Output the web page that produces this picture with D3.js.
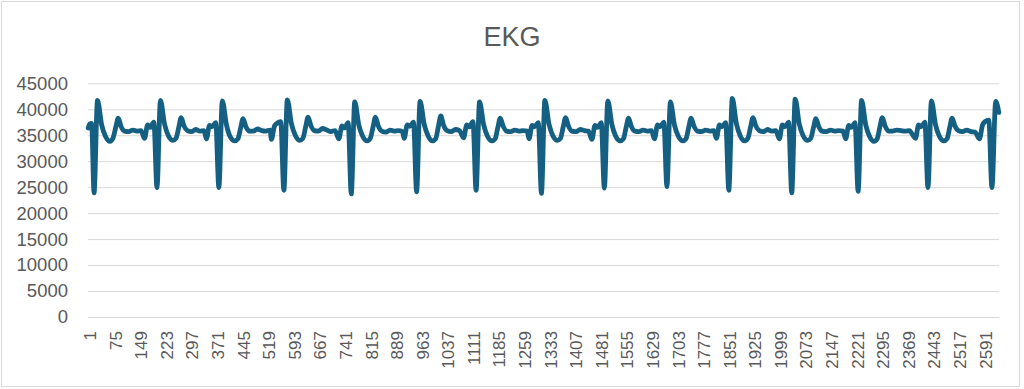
<!DOCTYPE html>
<html>
<head>
<meta charset="utf-8">
<script src="https://cdn.jsdelivr.net/npm/d3@7/dist/d3.min.js"></script>
<style>
  body { margin: 0; background: #fff; }
  svg { display: block; font-family: "Liberation Sans", Arial, sans-serif; }
</style>
</head>
<body>
<svg id="chart" width="1024" height="389"></svg>
<script>
// chart data
const chartTitle = 'EKG';
const sampleCount = 2635;
const yTicks = [0, 5000, 10000, 15000, 20000, 25000, 30000, 35000, 40000, 45000];
const xTickLabels = [1, 75, 149, 223, 297, 371, 445, 519, 593, 667, 741, 815, 889, 963, 1037, 1111,
  1185, 1259, 1333, 1407, 1481, 1555, 1629, 1703, 1777, 1851, 1925, 1999, 2073, 2147, 2221, 2295,
  2369, 2443, 2517, 2591];

// sample number of each read point
const sampleIdx = [
  1, 6, 11, 18, 28, 40, 51, 64, 73, 81, 88, 96, 106, 118, 130, 142, 154,
  164, 173, 180, 191, 200, 210, 222, 233, 246, 255, 263, 270, 278, 288, 300, 312, 324, 336,
  343, 352, 359, 370, 379, 389, 401, 412, 425, 434, 442, 449, 457, 467, 479, 491, 503, 515, 527,
  531, 540, 547, 558, 567, 577, 589, 600, 613, 622, 630, 637, 645, 655, 667, 679, 691, 703, 715,
  726, 735, 742, 753, 762, 772, 784, 795, 808, 817, 825, 832, 840, 850, 862, 874, 886, 898, 910,
  915, 924, 931, 942, 951, 961, 973, 984, 997, 1006, 1014, 1021, 1029, 1039, 1051, 1063, 1075,
  1087, 1096, 1103, 1114, 1123, 1133, 1145, 1156, 1169, 1178, 1186, 1193, 1201, 1211, 1223, 1235, 1247, 1259, 1271,
  1276, 1285, 1292, 1303, 1312, 1322, 1334, 1345, 1358, 1367, 1375, 1382, 1390, 1400, 1412, 1424, 1436, 1448,
  1458, 1467, 1474, 1485, 1494, 1504, 1516, 1527, 1540, 1549, 1557, 1564, 1572, 1582, 1594, 1606, 1618, 1630,
  1639, 1648, 1655, 1666, 1675, 1685, 1697, 1708, 1721, 1730, 1738, 1745, 1753, 1763, 1775, 1787, 1799, 1811,
  1818, 1827, 1834, 1845, 1854, 1864, 1876, 1887, 1900, 1909, 1917, 1924, 1932, 1942, 1954, 1966, 1978, 1990,
  2000, 2009, 2016, 2027, 2036, 2046, 2058, 2069, 2082, 2091, 2099, 2106, 2114, 2124, 2136, 2148, 2160, 2172, 2184,
  2192, 2201, 2208, 2219, 2228, 2238, 2250, 2261, 2274, 2283, 2291, 2298, 2306, 2316, 2328, 2340, 2352, 2364, 2376,
  2394, 2403, 2410, 2421, 2430, 2440, 2452, 2463, 2476, 2485, 2493, 2500, 2508, 2518, 2530, 2542, 2554, 2566,
  2579, 2588, 2595, 2606, 2615, 2626, 2635
];

const ekgValues = [
  36400, 37200, 37300, 23900, 41700, 37000, 34800, 33800, 34500, 36600, 38300, 36700, 35800, 35700, 36000, 35800, 35900,
  34400, 37000, 36500, 37500, 24900, 41700, 37100, 34900, 34000, 34400, 36500, 38400, 36800, 35900, 35700, 36100, 35800, 35900,
  34300, 36900, 36600, 37400, 24900, 41600, 37000, 34700, 33900, 34300, 36400, 38200, 36700, 35800, 35800, 36200, 35900, 35800, 36000,
  34200, 36800, 37300, 37600, 24400, 41800, 37200, 35000, 34000, 34400, 36600, 38500, 36900, 35900, 35800, 36300, 36000, 35700, 35900,
  34300, 36800, 36400, 37400, 23700, 41400, 36900, 34800, 33900, 34400, 36600, 38500, 36800, 35800, 35600, 36000, 35800, 35900, 35700,
  34400, 37000, 36700, 37500, 24100, 41500, 37100, 34900, 33900, 34300, 36700, 38700, 36900, 35900, 35700, 36100, 35900,
  34500, 37000, 36600, 37600, 24400, 41400, 37000, 34800, 33900, 34300, 36500, 38300, 36800, 35800, 35700, 36000, 35800, 35900, 35800,
  34300, 36900, 36600, 37400, 23800, 41700, 37100, 34900, 34000, 34400, 36600, 38400, 36800, 35800, 35700, 36100, 35900, 35800,
  34200, 36900, 36500, 37400, 24800, 41600, 37000, 34800, 33900, 34300, 36500, 38300, 36700, 35800, 35700, 36000, 35800, 35900,
  34300, 37000, 36600, 37500, 25100, 41400, 36900, 34800, 33900, 34300, 36500, 38300, 36800, 35800, 35700, 36000, 35800, 35900,
  34400, 37000, 36600, 37400, 24400, 42100, 37200, 34900, 33900, 34400, 36600, 38400, 36800, 35900, 35700, 36100, 35800, 35900,
  34300, 37000, 36600, 37500, 23900, 41950, 37100, 34900, 34000, 34400, 36500, 38200, 36700, 35800, 35700, 36000, 35800, 35900, 35800,
  34300, 36900, 36500, 37400, 24200, 41700, 37000, 34800, 33800, 34300, 36600, 38400, 36800, 35800, 35800, 36000, 35900, 35800, 35900,
  34400, 37000, 36600, 37500, 24900, 41600, 37000, 34800, 33900, 34300, 36500, 38300, 36800, 35900, 35700, 36000, 35700, 35600,
  34300, 37000, 37600, 37900, 24900, 41500, 39400
];

const width = 1024, height = 389;
const margin = { left: 88, right: 999, top: 83.3, bottom: 317 };
const textColor = '#595959';
const gridColor = '#d9d9d9';
const lineColor = '#156082';

const svg = d3.select('#chart');

// chart area outline
svg.append('rect')
  .attr('x', 1.5).attr('y', 1.5)
  .attr('width', 1018).attr('height', 385)
  .attr('fill', '#fff')
  .attr('stroke', gridColor)
  .attr('stroke-width', 1);

svg.append('text')
  .attr('x', width / 2)
  .attr('y', 46)
  .attr('text-anchor', 'middle')
  .attr('font-size', 27)
  .attr('fill', textColor)
  .text(chartTitle);

const x = d3.scaleLinear().domain([0.5, sampleCount + 0.5]).range([margin.left, margin.right]);
const y = d3.scaleLinear().domain([0, 45000]).range([margin.bottom, margin.top]);

// value axis + gridlines
const yAxis = svg.append('g')
  .attr('transform', 'translate(' + margin.left + ',0)')
  .call(d3.axisLeft(y).tickValues(yTicks).tickFormat(d => String(d))
    .tickSize(-(margin.right - margin.left)).tickPadding(20));
yAxis.select('.domain').remove();
yAxis.selectAll('.tick line').attr('stroke', gridColor).attr('stroke-width', 1);
yAxis.selectAll('.tick text')
  .attr('fill', textColor)
  .attr('font-size', 18.5)
  .attr('font-family', '"Liberation Sans", Arial, sans-serif');

// category axis, labels turned upright
const xAxis = svg.append('g')
  .attr('transform', 'translate(0,' + margin.bottom + ')')
  .call(d3.axisBottom(x).tickValues(xTickLabels).tickFormat(d => String(d)).tickSize(0));
xAxis.select('.domain').remove();
xAxis.selectAll('.tick text')
  .attr('transform', 'rotate(-90)')
  .attr('text-anchor', 'end')
  .attr('x', -14)
  .attr('y', 1.5)
  .attr('dy', '0.35em')
  .attr('fill', textColor)
  .attr('font-size', 17)
  .attr('font-family', '"Liberation Sans", Arial, sans-serif');

const points = sampleIdx.map((s, i) => [s, ekgValues[i]]);
const line = d3.line()
  .curve(d3.curveMonotoneX)
  .x(d => x(d[0]))
  .y(d => y(d[1]));

svg.append('path')
  .datum(points)
  .attr('d', line)
  .attr('fill', 'none')
  .attr('stroke', lineColor)
  .attr('stroke-width', 4.8)
  .attr('stroke-linejoin', 'round')
  .attr('stroke-linecap', 'round');
</script>
</body>
</html>
